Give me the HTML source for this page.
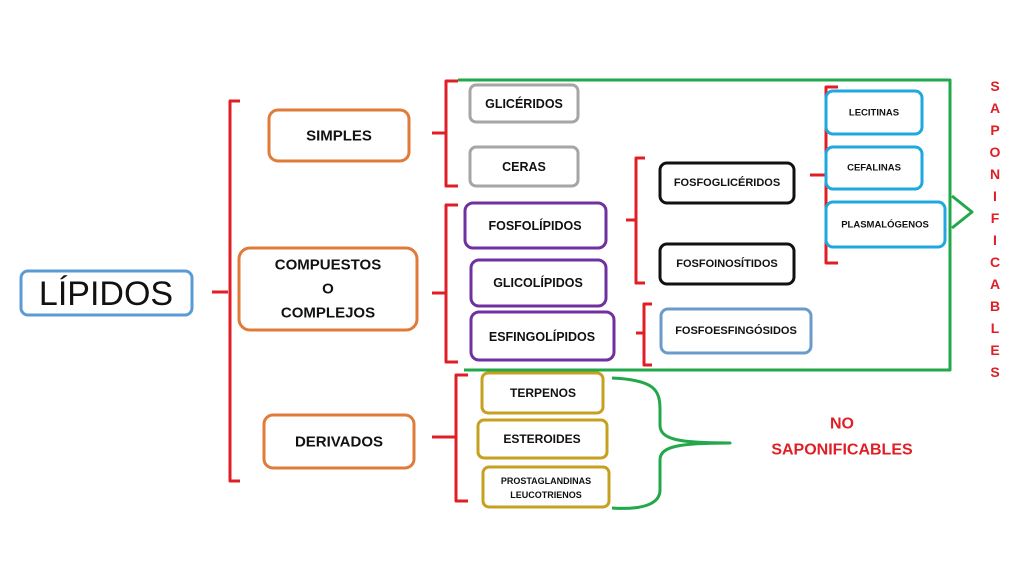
<!DOCTYPE html>
<html><head><meta charset="utf-8"><style>
html,body{margin:0;padding:0;background:#fff;width:1024px;height:576px;overflow:hidden}
text{font-family:"Liberation Sans",sans-serif;font-weight:bold;fill:#111;text-anchor:middle;dominant-baseline:central}
</style></head><body>
<svg width="1024" height="576" viewBox="0 0 1024 576" xmlns="http://www.w3.org/2000/svg">
<g fill="none" stroke-linejoin="round">
<g stroke="#e01e25" stroke-width="3">
<path d="M240 101 H230 V481 H240 M228 292 H212"/>
<path d="M458 81 H446 V186 H458 M445 133 H432"/>
<path d="M458 205 H446 V362 H458 M445 293 H432"/>
<path d="M468 375 H456 V501 H468 M455 437 H432"/>
<path d="M645 158 H636 V283 H645 M635 220 H626"/>
<path d="M652 304 H644 V365 H652 M643 333 H636"/>
<path d="M838 87 H826 V263 H838 M825 175 H810"/>
</g>
<g stroke="#22a84a" stroke-width="3">
<path d="M458 80 H950 V370 H464"/>
<path d="M952 196 L972 212 L952 228"/>
<path d="M612 378 C655 380 660 390 660 410 V425 C660 440 680 443 730 443 C680 443 660 446 660 460 V490 C660 505 640 510 612 508"/>
</g>
<g stroke-width="3">
<rect x="21" y="271" width="171" height="44" rx="7" stroke="#5b9bd5"/>
<rect x="269" y="110" width="140" height="51" rx="9" stroke="#e07b39"/>
<rect x="239" y="248" width="178" height="82" rx="11" stroke="#e07b39"/>
<rect x="264" y="415" width="150" height="53" rx="9" stroke="#e07b39"/>
<rect x="470" y="85" width="108" height="37" rx="6" stroke="#a6a6a6"/>
<rect x="470" y="147" width="108" height="39" rx="6" stroke="#a6a6a6"/>
<rect x="465" y="203" width="141" height="45" rx="8" stroke="#7030a0"/>
<rect x="471" y="260" width="135" height="46" rx="8" stroke="#7030a0"/>
<rect x="471" y="312" width="143" height="48" rx="8" stroke="#7030a0"/>
<rect x="660" y="163" width="134" height="40" rx="7" stroke="#111"/>
<rect x="660" y="244" width="134" height="40" rx="7" stroke="#111"/>
<rect x="661" y="309" width="150" height="44" rx="7" stroke="#6a9bc9"/>
<rect x="826" y="91" width="96" height="43" rx="7" stroke="#1fa8e0"/>
<rect x="826" y="147" width="96" height="42" rx="7" stroke="#1fa8e0"/>
<rect x="826" y="202" width="119" height="45" rx="7" stroke="#1fa8e0"/>
<rect x="482" y="373" width="121" height="40" rx="6" stroke="#c8a020"/>
<rect x="478" y="420" width="129" height="38" rx="6" stroke="#c8a020"/>
<rect x="483" y="467" width="126" height="40" rx="6" stroke="#c8a020"/>
</g>
</g>
<text x="106" y="294" style="font-weight:normal;font-size:34px">LÍPIDOS</text>
<text x="339" y="136" font-size="15">SIMPLES</text>
<text x="328" y="265" font-size="15">COMPUESTOS</text>
<text x="328" y="289" font-size="15">O</text>
<text x="328" y="313" font-size="15">COMPLEJOS</text>
<text x="339" y="442" font-size="15">DERIVADOS</text>
<text x="524" y="104" font-size="12.5">GLICÉRIDOS</text>
<text x="524" y="167" font-size="12.5">CERAS</text>
<text x="535" y="226" font-size="12.5">FOSFOLÍPIDOS</text>
<text x="538" y="283" font-size="12.5">GLICOLÍPIDOS</text>
<text x="542" y="337" font-size="12.5">ESFINGOLÍPIDOS</text>
<text x="727" y="183" font-size="11">FOSFOGLICÉRIDOS</text>
<text x="727" y="264" font-size="11">FOSFOINOSÍTIDOS</text>
<text x="736" y="331" font-size="11">FOSFOESFINGÓSIDOS</text>
<text x="874" y="113" font-size="9.5">LECITINAS</text>
<text x="874" y="168" font-size="9.5">CEFALINAS</text>
<text x="885" y="225" font-size="9.5">PLASMALÓGENOS</text>
<text x="543" y="393" font-size="12">TERPENOS</text>
<text x="542" y="439" font-size="12">ESTEROIDES</text>
<text x="546" y="481" font-size="9">PROSTAGLANDINAS</text>
<text x="546" y="495" font-size="9">LEUCOTRIENOS</text>
<text x="842" y="424" font-size="16" style="fill:#e01e25">NO</text>
<text x="842" y="450" font-size="16" style="fill:#e01e25">SAPONIFICABLES</text>
<g font-size="14">
<text x="995" y="86" style="fill:#e01e25">S</text>
<text x="995" y="108" style="fill:#e01e25">A</text>
<text x="995" y="130" style="fill:#e01e25">P</text>
<text x="995" y="152" style="fill:#e01e25">O</text>
<text x="995" y="174" style="fill:#e01e25">N</text>
<text x="995" y="196" style="fill:#e01e25">I</text>
<text x="995" y="218" style="fill:#e01e25">F</text>
<text x="995" y="240" style="fill:#e01e25">I</text>
<text x="995" y="262" style="fill:#e01e25">C</text>
<text x="995" y="284" style="fill:#e01e25">A</text>
<text x="995" y="306" style="fill:#e01e25">B</text>
<text x="995" y="328" style="fill:#e01e25">L</text>
<text x="995" y="350" style="fill:#e01e25">E</text>
<text x="995" y="372" style="fill:#e01e25">S</text>
</g>
</svg>
</body></html>
